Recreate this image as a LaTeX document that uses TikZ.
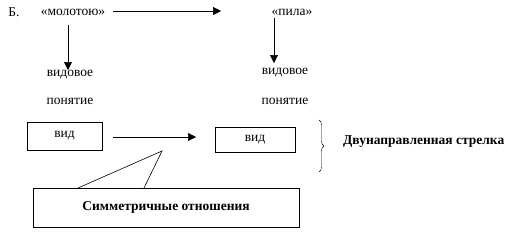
\documentclass[tikz,border=0pt]{standalone}
\usepackage{fontspec}
\setmainfont{Liberation Serif}
\usetikzlibrary{arrows.meta,decorations.pathreplacing}

\begin{document}
\begin{tikzpicture}[
  x=1pt,
  y=-1pt,
  font=\fontsize{13.5}{16}\selectfont,
  txt/.style={
    inner sep=0pt
  },
  vidbox/.style={
    rectangle,
    draw,
    inner sep=0pt,
    align=center
  },
  arr/.style={
    -{Triangle[width=8pt,length=8pt]},
    semithick
  },
  callout/.style={
    semithick
  },
  bold/.style={
    inner sep=0pt,
    font=\fontsize{13.5}{16}\selectfont\bfseries
  }
]

\useasboundingbox (0,0) rectangle (517,234);

% =========================================================
% ВЕРХНИЙ РЯД
% =========================================================

\node[txt] (b) at (14,12) {Б.};

\node[txt] (mol) at (73,12) {«молотою»};

\node[txt] (pila) at (292,12) {«пила»};

\node[txt] (vid1) at (70,75) {видовое};
\node[txt] (pon1) at (70,101) {понятие};

\node[txt] (vid2) at (285,73) {видовое};
\node[txt] (pon2) at (285,101) {понятие};

\coordinate (molstart) at (113,11);
\coordinate (molend) at (221,11);
\coordinate (mol1) at (68,25);
\coordinate (vid1top) at (68,70);
\coordinate (pila1) at (274,18);
\coordinate (vid2top) at (274,63);

\draw[arr] (molstart) -- (molend);

\draw[arr] (mol1) -- (vid1top);

\draw[arr] (pila1) -- (vid2top);


% =========================================================
% ВИД -- ВИД
% =========================================================

\node[vidbox, minimum width=75pt, minimum height=28pt] (box1)
  at (64.5,136) {вид};

\node[vidbox, minimum width=80pt, minimum height=25pt] (box2)
  at (255,139.5) {вид};

\coordinate (mid1) at (113,137);
\coordinate (mid2) at (196,137);

\draw[arr] (mid1) -- (mid2);


% --- скобка ---

\coordinate (br1) at (319,120);
\coordinate (br2) at (319,172);

\draw[decorate, decoration={brace, amplitude=5pt}] (br1) -- (br2);

\node[bold, anchor=west] (dvu) at (343,142) {Двунаправленная стрелка};


% =========================================================
% СИММЕТРИЧНЫЕ ОТНОШЕНИЯ
% =========================================================

\node[vidbox, minimum width=266pt, minimum height=39pt,
  font=\fontsize{13.5}{16}\selectfont\bfseries] (sym)
  at (166,207.5) {Симметричные отношения};

\coordinate (tip) at (162,151);
\coordinate (c1) at (78,188);
\coordinate (c2) at (144,188);

\draw[callout] (c1) -- (tip) -- (c2);

\end{tikzpicture}
\end{document}
